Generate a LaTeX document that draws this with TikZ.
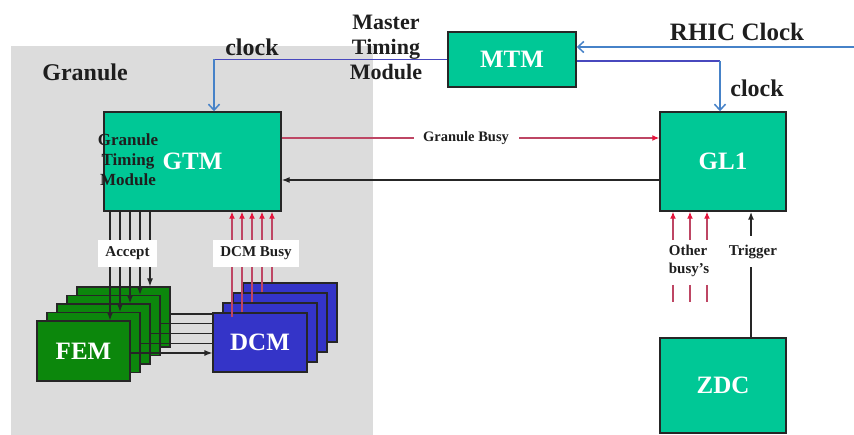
\documentclass[tikz,border=0pt]{standalone}
\usepackage{fontspec}
\setmainfont{Liberation Serif}
\usetikzlibrary{arrows.meta}
\definecolor{bggray}{RGB}{220,220,220}
\definecolor{tealbox}{RGB}{0,200,150}
\definecolor{femgreen}{RGB}{12,135,12}
\definecolor{dcmblue}{RGB}{52,52,200}
\definecolor{busyred}{RGB}{190,70,100}
\definecolor{tipred}{RGB}{230,20,60}
\definecolor{hblue}{RGB}{72,72,190}
\definecolor{vblue}{RGB}{70,130,200}
\definecolor{txt}{RGB}{30,30,30}
\begin{document}
\begin{tikzpicture}[x=1pt,y=-1pt,
  box/.style={draw=black!85, line width=1.4pt, fill=tealbox, text=white, inner sep=0,
    font=\fontsize{25}{28}\selectfont\bfseries},
  stackbox/.style={draw=black!85, line width=1.2pt, text=white, inner sep=0,
    font=\fontsize{25}{28}\selectfont\bfseries},
  bigtxt/.style={text=txt, inner sep=0, font=\fontsize{#1}{25}\selectfont\bfseries},
  smalltxt/.style={text=txt, inner sep=0, font=\fontsize{15}{18}\selectfont\bfseries},
  blk/.style={draw=black!85, line width=1.2pt},
  blkarrow/.style={blk, -{Latex[length=8pt,width=6pt]}},
  redline/.style={draw=busyred, line width=1.3pt},
  redarrow/.style={redline, -{Latex[length=7pt,width=6pt,color=tipred]}},
  hline/.style={draw=hblue, line width=1.3pt},
  varrow/.style={draw=vblue, line width=1.5pt, -{Straight Barb[length=6pt,width=11pt]}},
  whitelbl/.style={fill=white, inner sep=0, text=txt, font=\fontsize{15}{18}\selectfont\bfseries}
]
\useasboundingbox (0,0) rectangle (854,435);
\fill[bggray] (11,46) rectangle (373,435);

% main boxes
\node[box, minimum width=177, minimum height=99] (gtm) at (192.5,161.5) {GTM};
\node[box, minimum width=128, minimum height=55] (mtm) at (512,59.5) {MTM};
\node[box, minimum width=126, minimum height=99] (gl1) at (723,161.5) {GL1};
\node[box, minimum width=126, minimum height=95] (zdc) at (723,385.5) {ZDC};

% FEM stack
\foreach \i in {4,3,2,1}{
  \node[stackbox, fill=femgreen, minimum width=93, minimum height=60] (fem\i) at ({83.5+10*\i},{351-8.5*\i}) {};
}
\node[stackbox, fill=femgreen, minimum width=93, minimum height=60] (fem0) at (83.5,351) {FEM};

% DCM stack
\foreach \j in {3,2,1}{
  \node[stackbox, fill=dcmblue, minimum width=94, minimum height=59] (dcm\j) at ({260+10*\j},{342.5-10*\j}) {};
}
\node[stackbox, fill=dcmblue, minimum width=94, minimum height=59] (dcm0) at (260,342.5) {DCM};

% Accept lines
\foreach \k in {0,...,4}{
  \draw[blkarrow] ([xshift={-82.5+10*\k}]gtm.south) -- ([xshift=26.5]fem\k.north);
}
% FEM -> DCM lines
\foreach \k in {0,...,4}{
  \path ([yshift={1.25*\k-2}]fem\k.east) coordinate (s\k);
}
\draw[blkarrow] (s0) -- (s0 -| dcm0.west);
\foreach \k in {1,...,4}{
  \draw[blk] (s\k) -- (s\k -| dcm0.west);
}
% DCM busy lines
\draw[redarrow] ([xshift=-28,yshift=-5]dcm0.north) -- ([xshift=39.5]gtm.south);
\draw[redarrow] ([xshift=-18]dcm0.north) -- ([xshift=49.5]gtm.south);
\draw[redarrow] ([xshift=-18]dcm1.north) -- ([xshift=59.5]gtm.south);
\draw[redarrow] ([xshift=-18]dcm2.north) -- ([xshift=69.5]gtm.south);
\draw[redarrow] ([xshift=-18]dcm3.north) -- ([xshift=79.5]gtm.south);

\node[whitelbl, minimum width=59, minimum height=27] (acc) at (127.5,253.5) {Accept};
\node[whitelbl, minimum width=86, minimum height=27] (dcmb) at (256,253.5) {DCM Busy};

% GTM <-> GL1
\draw[redarrow] ([yshift=23.5]gtm.east) -- ([yshift=23.5]gl1.west);
\node[whitelbl, minimum width=105, minimum height=16, font=\fontsize{14.5}{17}\selectfont\bfseries] (gbusy) at (466,138) {Granule Busy};
\draw[blkarrow] ([yshift=-18.5]gl1.west) -- ([yshift=-18.5]gtm.east);

% clocks
\coordinate (rhic) at (854,47);
\draw[varrow] (rhic) -- ([yshift=12.5]mtm.east);
\coordinate (c1) at (214,59.5);
\draw[hline] (mtm.west) -- (c1);
\draw[varrow] (c1) -- ([xshift=21.5]gtm.north);
\coordinate (c2) at (720,61);
\draw[hline] ([yshift=-1.5]mtm.east) -- (c2);
\draw[varrow] (c2) -- ([xshift=-3]gl1.north);

% other busy's
\foreach \i/\x in {1/673,2/690,3/707}{
  \coordinate (ob\i) at (\x,240);
  \coordinate (oba\i) at (\x,285);
  \coordinate (obb\i) at (\x,302);
  \draw[redarrow] (ob\i) -- (ob\i |- gl1.south);
  \draw[redline] (oba\i) -- (obb\i);
}
\node[smalltxt, align=left] (obusy) at (689,261) {Other\\busy's};

% trigger
\draw[blkarrow, line width=1.6pt] ([xshift=28]zdc.north) -- ([xshift=28]gl1.south);
\node[whitelbl, minimum height=31] (trig) at (753,252) {Trigger};

% labels
\node[bigtxt=24] (granule) at (85,72) {Granule};
\node[bigtxt=24] (clk1) at (252,47) {clock};
\node[bigtxt=22, align=center] (mtmlbl) at (386,47) {Master\\Timing\\Module};
\node[bigtxt=25] (rhiclbl) at (737,32) {RHIC Clock};
\node[bigtxt=24] (clk2) at (757,88) {clock};
\node[text=txt, inner sep=0, align=center, font=\fontsize{17}{20}\selectfont\bfseries] (gtmlbl) at (128,160) {Granule\\Timing\\Module};
\end{tikzpicture}
\end{document}
